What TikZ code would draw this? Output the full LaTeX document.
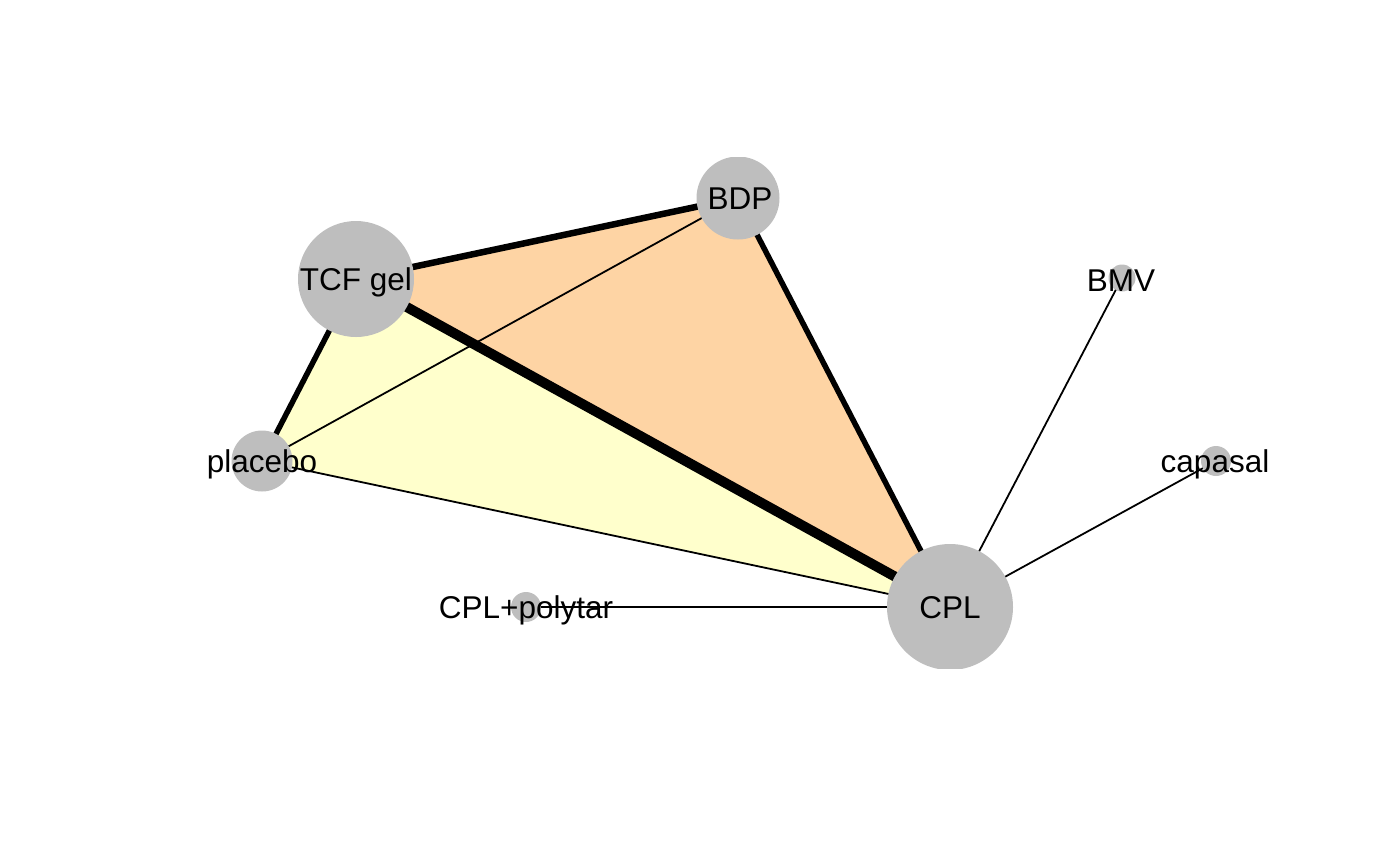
\documentclass[tikz,border=0pt]{standalone}
\usepackage{fontspec}
\setmainfont{Liberation Sans}
\definecolor{nodegray}{HTML}{BEBEBE}
\definecolor{peach}{HTML}{FED4A4}
\definecolor{paleyel}{HTML}{FFFFCC}
\begin{document}
\begin{tikzpicture}[x=1pt,y=-1pt,
  trt/.style={circle,fill=nodegray,draw=none,inner sep=0pt},
  lbl/.style={anchor=base,inner sep=0pt,font=\fontsize{31.5}{36}\selectfont},
  edgethin/.style={line width=1.8pt},
  edgethick/.style={line width=#1pt,line cap=round}]
\useasboundingbox (0,0) rectangle (1400,865);
\coordinate (bdp) at (738,198);
\coordinate (tcf) at (356,279);
\coordinate (plc) at (262,461);
\coordinate (cpl) at (950,607);
\coordinate (bmv) at (1122,278);
\coordinate (cap) at (1216,461);
\coordinate (cpp) at (526,607);
\begin{scope}
\clip (0,157) rectangle (1400,668);
\fill[peach] (tcf) -- (bdp) -- (cpl) -- cycle;
\fill[paleyel] (tcf) -- (plc) -- (cpl) -- cycle;
\draw[edgethick=10] (tcf) -- (cpl);
\draw[edgethick=6.5] (tcf) -- (bdp);
\draw[edgethick=5.5] (bdp) -- (cpl);
\draw[edgethick=5.5] (tcf) -- (plc);
\draw[edgethin] (plc) -- (bdp);
\draw[edgethin] (plc) -- (cpl);
\draw[edgethin] (cpl) -- (bmv);
\draw[edgethin] (cpl) -- (cap);
\draw[edgethin] (cpl) -- (cpp);
\node[trt,minimum size=83pt] (bdpc) at (bdp) {};
\node[trt,minimum size=116pt] (tcfc) at (tcf) {};
\node[trt,minimum size=61pt] (plcc) at (plc) {};
\node[trt,minimum size=126pt] (cplc) at (cpl) {};
\node[trt,minimum size=27pt] (bmvc) at (bmv) {};
\node[trt,minimum size=30pt] (capc) at (cap) {};
\node[trt,minimum size=30pt] (cppc) at (cpp) {};
\end{scope}
\node[lbl] (bdpl) at (740,209.5) {BDP};
\node[lbl] (tcfl) at (356,290) {TCF gel};
\node[lbl] (plcl) at (262,472) {placebo};
\node[lbl] (cpll) at (950,618.5) {CPL};
\node[lbl] (bmvl) at (1121,291) {BMV};
\node[lbl] (capl) at (1215,472) {capasal};
\node[lbl] (cppl) at (526,618) {CPL+polytar};
\end{tikzpicture}
\end{document}
